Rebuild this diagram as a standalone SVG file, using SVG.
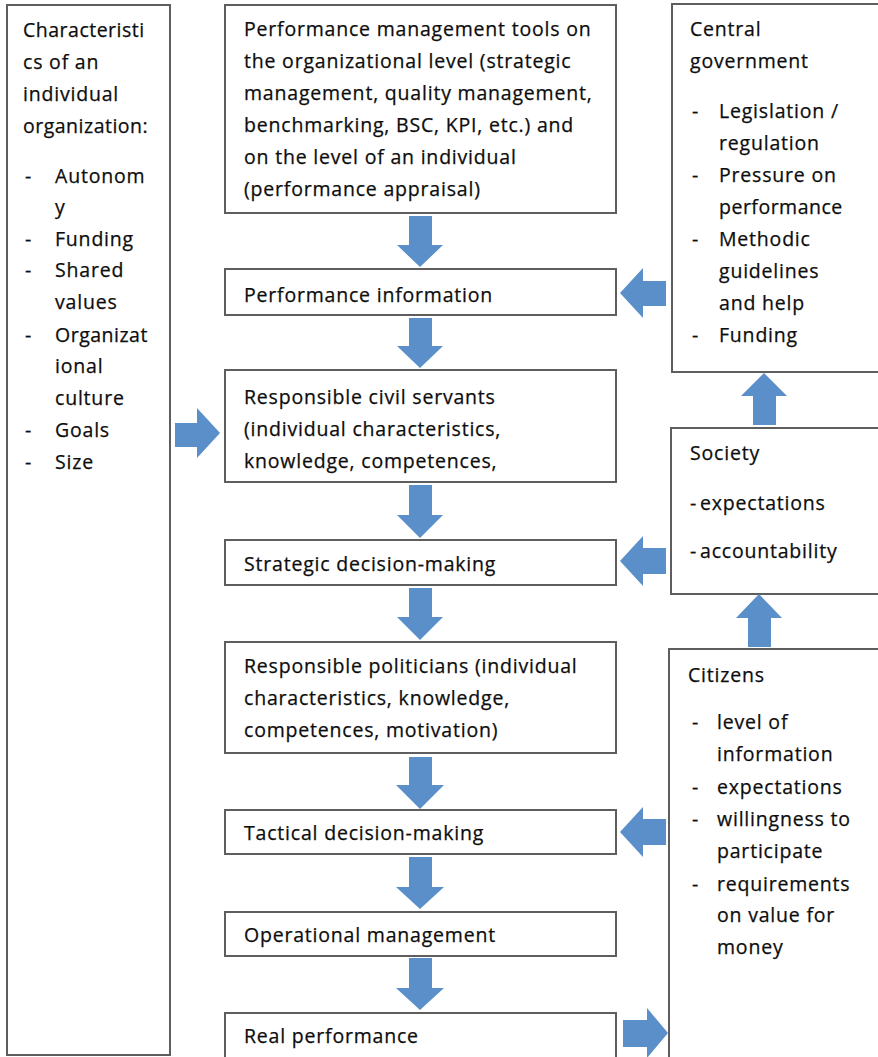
<svg xmlns="http://www.w3.org/2000/svg" width="878" height="1057" viewBox="0 0 878 1057">
<style>
.box{fill:#fff;stroke:#5e5e5e;stroke-width:2}
.t{font-family:"Open Sans","Liberation Sans",sans-serif;font-size:19.5px;letter-spacing:0.8px;fill:#0d0d0d;stroke:#0d0d0d;stroke-width:0.25}
.arr{fill:#5b8fc9}
</style>
<rect width="878" height="1057" fill="#fff"/>
<g id="characteristics">
<rect class="box" x="7" y="5" width="163" height="1050"/>
<text class="t" x="23" y="37" style="letter-spacing:0.5px">Characteristi</text>
<text class="t" x="23" y="69">cs of an</text>
<text class="t" x="23" y="101">individual</text>
<text class="t" x="23" y="133" style="letter-spacing:0.5px">organization:</text>
<text class="t" x="25" y="183">-</text><text class="t" x="55" y="183">Autonom</text>
<text class="t" x="55" y="214">y</text>
<text class="t" x="25" y="246">-</text><text class="t" x="55" y="246">Funding</text>
<text class="t" x="25" y="277">-</text><text class="t" x="55" y="277">Shared</text>
<text class="t" x="55" y="309">values</text>
<text class="t" x="25" y="342">-</text><text class="t" x="55" y="342" style="letter-spacing:0.5px">Organizat</text>
<text class="t" x="55" y="373">ional</text>
<text class="t" x="55" y="405">culture</text>
<text class="t" x="25" y="437">-</text><text class="t" x="55" y="437">Goals</text>
<text class="t" x="25" y="469">-</text><text class="t" x="55" y="469">Size</text>
</g>
<g id="tools">
<rect class="box" x="225" y="5" width="391" height="208"/>
<text class="t" x="244" y="36">Performance management tools on</text>
<text class="t" x="244" y="68">the organizational level (strategic</text>
<text class="t" x="244" y="100">management, quality management,</text>
<text class="t" x="244" y="132">benchmarking, BSC, KPI, etc.) and</text>
<text class="t" x="244" y="164">on the level of an individual</text>
<text class="t" x="244" y="196">(performance appraisal)</text>
</g>
<g id="perfinfo">
<rect class="box" x="225" y="269" width="391" height="46"/>
<text class="t" x="244" y="302">Performance information</text>
</g>
<g id="civilservants">
<rect class="box" x="225" y="370" width="391" height="112"/>
<text class="t" x="244" y="404">Responsible civil servants</text>
<text class="t" x="244" y="436">(individual characteristics,</text>
<text class="t" x="244" y="468">knowledge, competences,</text>
</g>
<g id="strategic">
<rect class="box" x="225" y="540" width="391" height="45"/>
<text class="t" x="244" y="571">Strategic decision-making</text>
</g>
<g id="politicians">
<rect class="box" x="225" y="642" width="391" height="111"/>
<text class="t" x="244" y="673">Responsible politicians (individual</text>
<text class="t" x="244" y="705">characteristics, knowledge,</text>
<text class="t" x="244" y="737">competences, motivation)</text>
</g>
<g id="tactical">
<rect class="box" x="225" y="810" width="391" height="44"/>
<text class="t" x="244" y="840">Tactical decision-making</text>
</g>
<g id="operational">
<rect class="box" x="225" y="912" width="391" height="44"/>
<text class="t" x="244" y="942">Operational management</text>
</g>
<g id="realperformance">
<rect class="box" x="225" y="1013" width="391" height="60"/>
<text class="t" x="244" y="1043">Real performance</text>
</g>
<g id="centralgov">
<rect class="box" x="672" y="4" width="220" height="368"/>
<text class="t" x="690" y="36">Central</text>
<text class="t" x="690" y="68">government</text>
<text class="t" x="692" y="118">-</text><text class="t" x="719" y="118">Legislation /</text>
<text class="t" x="719" y="150">regulation</text>
<text class="t" x="692" y="182">-</text><text class="t" x="719" y="182">Pressure on</text>
<text class="t" x="719" y="214" style="letter-spacing:0.5px">performance</text>
<text class="t" x="692" y="246">-</text><text class="t" x="719" y="246">Methodic</text>
<text class="t" x="719" y="278">guidelines</text>
<text class="t" x="719" y="310">and help</text>
<text class="t" x="692" y="342">-</text><text class="t" x="719" y="342">Funding</text>
</g>
<g id="society">
<rect class="box" x="671" y="428" width="220" height="166"/>
<text class="t" x="690" y="460">Society</text>
<text class="t" x="690" y="510">-</text><text class="t" x="700" y="510">expectations</text>
<text class="t" x="690" y="558">-</text><text class="t" x="700" y="558">accountability</text>
</g>
<g id="citizens">
<rect class="box" x="669" y="649" width="222" height="430"/>
<text class="t" x="688" y="682">Citizens</text>
<text class="t" x="692" y="729">-</text><text class="t" x="717" y="729">level of</text>
<text class="t" x="717" y="761">information</text>
<text class="t" x="692" y="794">-</text><text class="t" x="717" y="794">expectations</text>
<text class="t" x="692" y="826">-</text><text class="t" x="717" y="826">willingness to</text>
<text class="t" x="717" y="858">participate</text>
<text class="t" x="692" y="891">-</text><text class="t" x="717" y="891">requirements</text>
<text class="t" x="717" y="922">on value for</text>
<text class="t" x="717" y="954">money</text>
</g>
<g id="connectors">
<path class="arr" d="M409 216H432V245H443L420 267L397 245H409Z"/>
<path class="arr" d="M409 318H432V346H443L420 368L397 346H409Z"/>
<path class="arr" d="M409 485H432V515H443L420 538L397 515H409Z"/>
<path class="arr" d="M409 588H432V617H443L420 640L397 617H409Z"/>
<path class="arr" d="M409 757H432V785H444L420 809L396 785H409Z"/>
<path class="arr" d="M409 857H432V887H444L420 909L396 887H409Z"/>
<path class="arr" d="M409 958H432V988H444L420 1010L396 988H409Z"/>
<path class="arr" d="M666 281V306H643V318L620 293L643 268V281Z"/>
<path class="arr" d="M666 548V574H643V586L620 561L643 536V548Z"/>
<path class="arr" d="M666 819V845H643V857L620 832L643 807V819Z"/>
<path class="arr" d="M753 425V396H741L764 373L787 396H776V425Z"/>
<path class="arr" d="M748 647V618H736L759 594L782 618H771V647Z"/>
<path class="arr" d="M175 423H197V408L220 433L197 458V447H175Z"/>
<path class="arr" d="M623 1020H647V1008L668 1033L647 1058V1047H623Z"/>
</g>
</svg>
